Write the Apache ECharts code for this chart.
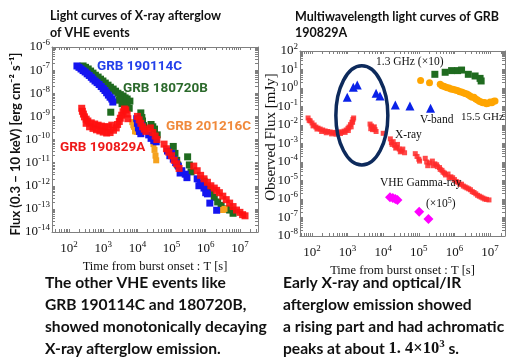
<!DOCTYPE html>
<html>
<head>
<meta charset="utf-8">
<script src="https://cdn.jsdelivr.net/npm/echarts@6/dist/echarts.min.js"></script>
<style>
html, body { margin: 0; padding: 0; background: #fff; }
#main { width: 507px; height: 363px; }
</style>
</head>
<body>
<div id="main"></div>
<script>
// all points are [log10 T(s), log10 flux]

// left panel : X-ray flux (0.3-10 keV) [erg cm-2 s-1]
var grb180720B = [
  [2.41,-6.82],[2.48,-6.88],[2.56,-6.95],[2.63,-7.04],[2.70,-7.13],[2.77,-7.22],[2.85,-7.30],[2.92,-7.39],
  [2.99,-7.47],[3.06,-7.56],[3.14,-7.65],[3.21,-7.74],[3.29,-7.82],[3.36,-7.91],[3.43,-8.00],[3.50,-8.06],
  [3.58,-8.12],[3.64,-8.20],[3.70,-8.25],[3.78,-8.34],[3.46,-8.30],[3.55,-8.45],[3.62,-8.50],[3.70,-8.55],
  [3.76,-8.65],[3.22,-8.82],
  [4.10,-8.85],[4.13,-9.05],[4.15,-9.20],[4.18,-9.40],[4.20,-9.60],[4.40,-9.35],[4.45,-9.45],[4.50,-9.55],
  [4.58,-9.80],[5.05,-10.30],[5.10,-10.60],[5.15,-10.90],[5.18,-11.10],[5.47,-10.75],[5.52,-11.10],[5.57,-11.40],
  [5.95,-11.80],[6.05,-12.05],[6.15,-12.30],[6.25,-12.50],[6.35,-12.70],[6.45,-12.85],[6.60,-13.00],[6.70,-13.05],
  [6.80,-13.19]
];
var grb201216C = [
  [3.85,-9.25],[3.88,-9.38],[3.90,-9.45],[3.93,-9.65],[3.98,-9.67],[4.47,-10.20],[4.50,-10.45],[4.53,-10.70],
  [4.55,-10.90],[6.50,-13.05],[6.55,-13.00]
];
var grb190114C = [
  [2.23,-6.82],[2.29,-6.88],[2.35,-6.95],[2.41,-7.02],[2.47,-7.08],[2.53,-7.16],[2.59,-7.23],[2.65,-7.31],
  [2.70,-7.39],[2.76,-7.47],[2.82,-7.54],[2.88,-7.62],[2.94,-7.71],[3.00,-7.80],[3.05,-7.88],[3.10,-7.98],
  [3.15,-8.08],[3.20,-8.17],[3.25,-8.25],[3.28,-8.38],
  [3.98,-9.10],[4.00,-9.30],[4.03,-9.50],[4.06,-9.65],[4.10,-9.75],[4.12,-9.40],[4.33,-9.80],[4.40,-9.95],
  [4.48,-10.05],[4.55,-10.10],[4.88,-10.50],[4.95,-10.70],[5.00,-10.60],[5.05,-10.85],[5.12,-11.00],[5.20,-11.15],
  [5.25,-11.45],[5.30,-11.35],[5.40,-11.50],[5.45,-11.65],[5.75,-11.70],[5.80,-12.00],[5.85,-11.90],[5.95,-12.10],
  [6.00,-12.30],[6.05,-12.35],[6.12,-12.75],[6.32,-13.06]
];
var grb190829A = [
  [2.37,-8.65],[2.39,-8.78],[2.42,-8.90],[2.45,-9.02],[2.50,-9.12],[2.50,-9.30],
  [2.55,-9.20],[2.65,-9.28],[2.75,-9.33],[2.85,-9.38],[2.95,-9.42],[3.05,-9.45],[3.15,-9.45],[3.25,-9.38],
  [2.60,-9.45],[2.70,-9.52],[2.80,-9.58],[2.90,-9.63],[3.00,-9.68],[3.10,-9.72],[3.20,-9.70],[3.30,-9.60],[3.38,-9.50],
  [3.42,-9.35],[3.47,-9.22],[3.50,-9.08],[3.54,-8.95],[3.58,-8.80],[3.62,-8.68],[3.66,-8.72],[3.70,-8.90],[3.72,-9.10],
  [4.00,-9.00],[4.05,-9.15],[4.10,-9.30],[4.15,-9.45],[4.20,-9.55],[4.25,-9.65],[4.38,-9.50],[4.45,-9.70],
  [4.52,-9.85],[4.57,-10.00],[4.78,-10.20],[4.85,-10.40],[4.92,-10.55],[5.00,-10.70],[5.08,-10.90],[5.15,-11.05],
  [5.22,-11.25],[5.65,-11.15],[5.75,-11.35],[5.85,-11.55],[5.95,-11.70],[6.05,-11.85],[6.15,-12.00],[6.25,-12.10],
  [6.32,-12.20],[6.40,-12.30],[6.50,-12.45],[6.60,-12.60],[6.70,-12.75],[6.80,-12.90],[6.90,-13.05],[7.00,-13.15],
  [7.08,-13.25],[7.15,-13.30]
];

// right panel : GRB 190829A multiwavelength [mJy]
var xray = [
  [1.89,-1.62],[1.95,-1.78],[2.00,-1.89],[2.06,-2.00],[2.11,-2.11],[2.17,-2.17],[2.23,-2.22],[2.30,-2.27],
  [2.37,-2.32],[2.44,-2.35],[2.51,-2.38],[2.58,-2.40],[2.65,-2.43],[2.70,-2.40],[2.76,-2.38],[2.84,-2.38],
  [2.90,-2.33],[2.96,-2.27],[3.01,-2.18],[3.04,-2.11],[3.08,-1.98],[3.12,-1.85],[3.15,-1.70],[3.17,-1.62],
  [1.92,-1.75],[2.03,-2.05],[2.14,-2.22],[2.27,-2.35],[2.40,-2.42],[2.55,-2.48],[2.68,-2.50],[2.80,-2.46],
  [2.93,-2.40],[3.02,-2.30],[3.10,-2.10],[3.14,-1.85],
  [3.63,-1.95],[3.65,-2.20],[3.67,-2.05],[3.70,-2.25],[3.72,-2.15],[3.75,-2.10],[3.77,-2.25],[3.80,-2.35],[4.00,-2.45],
  [4.20,-2.75],[4.23,-2.95],[4.25,-3.05],[4.28,-2.90],[4.32,-3.10],[4.35,-3.25],[4.38,-3.20],[4.40,-3.05],
  [4.45,-3.30],[4.48,-3.45],[4.52,-3.40],[4.55,-3.30],[4.60,-3.50],
  [4.90,-3.55],[4.95,-3.70],[5.00,-3.85],[5.02,-3.95],[5.18,-3.80],[5.22,-4.00],[5.25,-4.20],[5.30,-4.05],
  [5.38,-3.95],[5.40,-4.20],[5.45,-4.10],[5.50,-4.15],[5.52,-4.25],[5.58,-4.30],[5.60,-4.40],[5.65,-4.45],
  [5.68,-4.55],[5.72,-4.60],[5.75,-4.70],[5.82,-4.65],[5.85,-4.85],[5.90,-4.80],[5.95,-4.85],[6.00,-4.95],
  [6.05,-5.05],[6.10,-5.10],[6.15,-5.20],[6.20,-5.20],[6.25,-5.30],[6.30,-5.35],[6.35,-5.40],[6.40,-5.45],
  [6.45,-5.50],[6.50,-5.60],[6.55,-5.65],[6.60,-5.72],[6.65,-5.80],[6.70,-5.85],[6.75,-5.90],[6.80,-5.95],
  [6.85,-6.00],[6.90,-6.02],[6.97,-6.05]
];
var vBand = [
  [2.99,-0.50],[3.16,0.04],[3.27,0.16],[3.80,-0.29],[3.91,-0.43],[4.34,-0.92],[4.75,-0.97],[5.33,-1.10]
];
var radio1p3 = [
  [5.45,0.74],[5.74,0.85],[5.92,0.94],[6.09,0.94],[6.20,0.97],[6.39,0.74],[6.58,0.65],[6.72,0.52],[6.75,0.38]
];
var radio15p5 = [
  [5.05,0.40],[5.30,0.29],[5.60,0.20],[5.65,0.12],[5.70,0.10],[5.75,0.05],[5.80,0.02],[5.85,0.00],
  [5.90,-0.05],[5.95,-0.07],[6.00,-0.10],[6.05,-0.12],[6.10,-0.15],[6.15,-0.20],[6.20,-0.22],[6.25,-0.25],
  [6.30,-0.30],[6.35,-0.33],[6.40,-0.38],[6.45,-0.45],[6.50,-0.50],[6.55,-0.50],[6.60,-0.60],[6.65,-0.65],
  [6.70,-0.72],[6.75,-0.75],[6.80,-0.80],[6.85,-0.78],[6.90,-0.85],[6.95,-0.82],[7.00,-0.75],[7.05,-0.80],
  [7.10,-0.72],[7.14,-0.70]
];
var vheGamma = [
  [4.19,-5.91],[4.27,-5.94],[4.34,-6.00],[4.40,-6.05],[5.01,-6.69],[5.27,-7.08]
];
// ring around the early peak: [T min, T max, F min, F max] in log10
var peakRing = [2.67, 4.13, -4.16, 1.20];

// tick labels (decades)
var leftTimeDecades = [2, 3, 4, 5, 6, 7];
var leftFluxDecades = [-14, -13, -12, -11, -10, -9, -8, -7, -6];
var rightTimeDecades = [2, 3, 4, 5, 6, 7];
var rightFluxDecades = [-8, -7, -6, -5, -4, -3, -2, -1, 0, 1, 2];

var frameColor = '#7f7f7f';
var serif = "'Liberation Serif', 'DejaVu Serif', serif";
var sans = "Lato, 'Noto Sans', sans-serif";

function allTicks(lo, hi) {
  var out = [];
  for (var n = Math.floor(lo); n < hi; n++) {
    for (var k = 1; k < 10; k++) {
      var v = n + Math.log10(k);
      if (v >= lo - 1e-9 && v <= hi + 1e-9) out.push(v);
    }
  }
  return out;
}

var tickRich = {
  b: { fontFamily: serif, fontSize: 13, color: '#111' },
  s: { fontFamily: serif, fontSize: 9, color: '#111', padding: [0, 0, 8, 0] }
};

function makeAxis(kind, grid, min, max, decades, pos, labels, name) {
  var ax = {
    type: 'value',
    gridIndex: grid,
    min: min,
    max: max,
    position: pos,
    axisLine: { show: true, onZero: false, lineStyle: { color: frameColor, width: 1 } },
    axisTick: { show: true, inside: true, length: 3, customValues: allTicks(min, max),
      lineStyle: { color: frameColor } },
    splitLine: { show: false },
    axisLabel: { show: false }
  };
  if (labels) {
    ax.axisLabel = {
      show: true,
      customValues: decades,
      margin: kind === 'x' ? 8 : 2,
      formatter: function (v) { return '{b|10}{s|' + v + '}'; },
      rich: tickRich
    };
  }
  if (name) {
    ax.name = name;
    ax.nameLocation = 'middle';
    ax.nameGap = 25;
    ax.nameTextStyle = { fontFamily: serif, fontSize: 12.5, color: '#111' };
  }
  return ax;
}

function pts(name, data, symbol, size, color, axis, opacity) {
  return {
    name: name,
    type: 'scatter',
    xAxisIndex: axis,
    yAxisIndex: axis,
    data: data,
    symbol: symbol,
    symbolSize: size,
    itemStyle: { color: color, opacity: opacity },
    silent: true
  };
}

var myChart = echarts.init(document.getElementById('main'));

var option = {
  animation: false,
  backgroundColor: '#fff',
  grid: [
    { left: 52, top: 47, width: 206, height: 185 },
    { left: 300, top: 51, width: 205, height: 185 }
  ],
  xAxis: [
    makeAxis('x', 0, 1.5, 7.53, leftTimeDecades, 'bottom', true, 'Time from burst onset : T [s]'),
    makeAxis('x', 0, 1.5, 7.53, leftTimeDecades, 'top', false),
    makeAxis('x', 1, 1.663, 7.42, rightTimeDecades, 'bottom', true, 'Time from burst onset : T [s]'),
    makeAxis('x', 1, 1.663, 7.42, rightTimeDecades, 'top', false)
  ],
  yAxis: [
    makeAxis('y', 0, -14, -6, leftFluxDecades, 'left', true),
    makeAxis('y', 0, -14, -6, leftFluxDecades, 'right', false),
    makeAxis('y', 1, -8, 2, rightFluxDecades, 'left', true),
    makeAxis('y', 1, -8, 2, rightFluxDecades, 'right', false)
  ],
  series: [
    pts('GRB 180720B', grb180720B, 'rect', 7, '#1f6b1f', 0, 1),
    pts('GRB 201216C', grb201216C, 'rect', 6, '#f5a21e', 0, 1),
    pts('GRB 190114C', grb190114C, 'rect', 7, '#1414f0', 0, 1),
    pts('GRB 190829A', grb190829A, 'rect', 7, '#ff1010', 0, 0.9),
    pts('X-ray', xray, 'rect', 5, '#ff2a2a', 2, 0.85),
    pts('V-band', vBand, 'triangle', 9, '#0a22e8', 2, 1),
    pts('1.3 GHz', radio1p3, 'rect', 7, '#1f6b1f', 2, 1),
    pts('15.5 GHz', radio15p5, 'circle', 7, '#ffa500', 2, 1),
    pts('VHE', vheGamma, 'diamond', 10, '#ff00ff', 2, 1)
  ]
};
myChart.setOption(option);

// ring drawn in data coordinates of the right panel
var p1 = myChart.convertToPixel({ seriesIndex: 4 }, [peakRing[0], peakRing[3]]);
var p2 = myChart.convertToPixel({ seriesIndex: 4 }, [peakRing[1], peakRing[2]]);

function txt(x, y, s, font, size, color, weight, extra) {
  var t = {
    type: 'text', x: x, y: y, z: 20,
    style: { text: s, fontFamily: font, fontSize: size, fill: color, fontWeight: weight || 'normal',
      align: 'left', verticalAlign: 'middle' }
  };
  if (extra) { for (var k in extra) t.style[k] = extra[k]; }
  return t;
}

var grbFont = "Roboto, 'Liberation Sans', sans-serif";
var noteSize = 15.6;
var graphics = [
  {
    type: 'ellipse', z: 15,
    shape: { cx: (p1[0] + p2[0]) / 2, cy: (p1[1] + p2[1]) / 2, rx: Math.abs(p2[0] - p1[0]) / 2, ry: Math.abs(p2[1] - p1[1]) / 2 },
    style: { fill: 'none', stroke: '#0d2a5c', lineWidth: 3.5 }
  },
  // titles
  txt(50, 16, 'Light curves of X-ray afterglow', sans, 12.5, '#111', 'bold'),
  txt(50, 33, 'of VHE events', sans, 12.5, '#111', 'bold'),
  txt(295, 17, 'Multiwavelength light curves of GRB', sans, 12.5, '#111', 'bold'),
  txt(295, 33, '190829A', sans, 12.5, '#111', 'bold'),
  // y axis names
  { type: 'text', x: 16, y: 144, rotation: Math.PI / 2, z: 20,
    style: { text: 'Flux (0.3 \u2212 10 keV) [erg cm\u207B\u00B2 s\u207B\u00B9]', fontFamily: sans, fontSize: 13,
      fontWeight: 'bold', fill: '#111', align: 'center', verticalAlign: 'middle' } },
  { type: 'text', x: 271, y: 137, rotation: Math.PI / 2, z: 20,
    style: { text: 'Observed Flux [mJy]', fontFamily: serif, fontSize: 15, fill: '#111',
      align: 'center', verticalAlign: 'middle' } },
  // left panel labels
  txt(97, 67, 'GRB 190114C', grbFont, 13.5, '#2440ea', 'bold'),
  txt(123, 89, 'GRB 180720B', grbFont, 13.5, '#2c6a2c', 'bold'),
  txt(166, 127, 'GRB 201216C', grbFont, 13.5, '#f08a3c', 'bold'),
  txt(60, 148, 'GRB 190829A', grbFont, 13.5, '#ee1a1a', 'bold'),
  // right panel labels
  txt(376, 62, '1.3 GHz (\u00D710)', serif, 11.5, '#111'),
  txt(420, 120, 'V-band', serif, 11.5, '#111'),
  txt(461, 117, '15.5 GHz', serif, 11, '#111'),
  txt(395, 135, 'X-ray', serif, 11.5, '#111'),
  txt(380, 183, 'VHE Gamma-ray', serif, 11.5, '#111'),
  txt(426, 204, '{a|(\u00D710}{s|5}{a|)}', serif, 11.5, '#111', 'normal', {
    rich: { a: { fontFamily: serif, fontSize: 11.5, fill: '#111' },
            s: { fontFamily: serif, fontSize: 8, fill: '#111', padding: [0, 0, 7, 0] } } }),
  // bottom notes
  txt(45, 283, 'The other VHE events like', sans, noteSize, '#111', 'bold'),
  txt(45, 305, 'GRB 190114C and 180720B,', sans, noteSize, '#111', 'bold'),
  txt(45, 327, 'showed monotonically decaying', sans, noteSize, '#111', 'bold'),
  txt(45, 349, 'X-ray afterglow emission.', sans, noteSize, '#111', 'bold'),
  txt(283, 283, 'Early X-ray and optical/IR', sans, noteSize, '#111', 'bold'),
  txt(283, 305, 'afterglow emission showed', sans, noteSize, '#111', 'bold'),
  txt(283, 327, 'a rising part and had achromatic', sans, noteSize, '#111', 'bold'),
  txt(283, 349, '{t|peaks at about }{m|1. 4\u00D710}{s|3}{t| s.}', sans, noteSize, '#111', 'bold', {
    rich: { t: { fontFamily: sans, fontSize: noteSize, fontWeight: 'bold', fill: '#111' },
            m: { fontFamily: serif, fontSize: 16.5, fontWeight: 'bold', fill: '#111' },
            s: { fontFamily: serif, fontSize: 11, fontWeight: 'bold', fill: '#111', padding: [0, 0, 9, 0] } } })
];

myChart.setOption({ graphic: graphics });

window.addEventListener('resize', function () {
  myChart.resize();
});
</script>
</body>
</html>
